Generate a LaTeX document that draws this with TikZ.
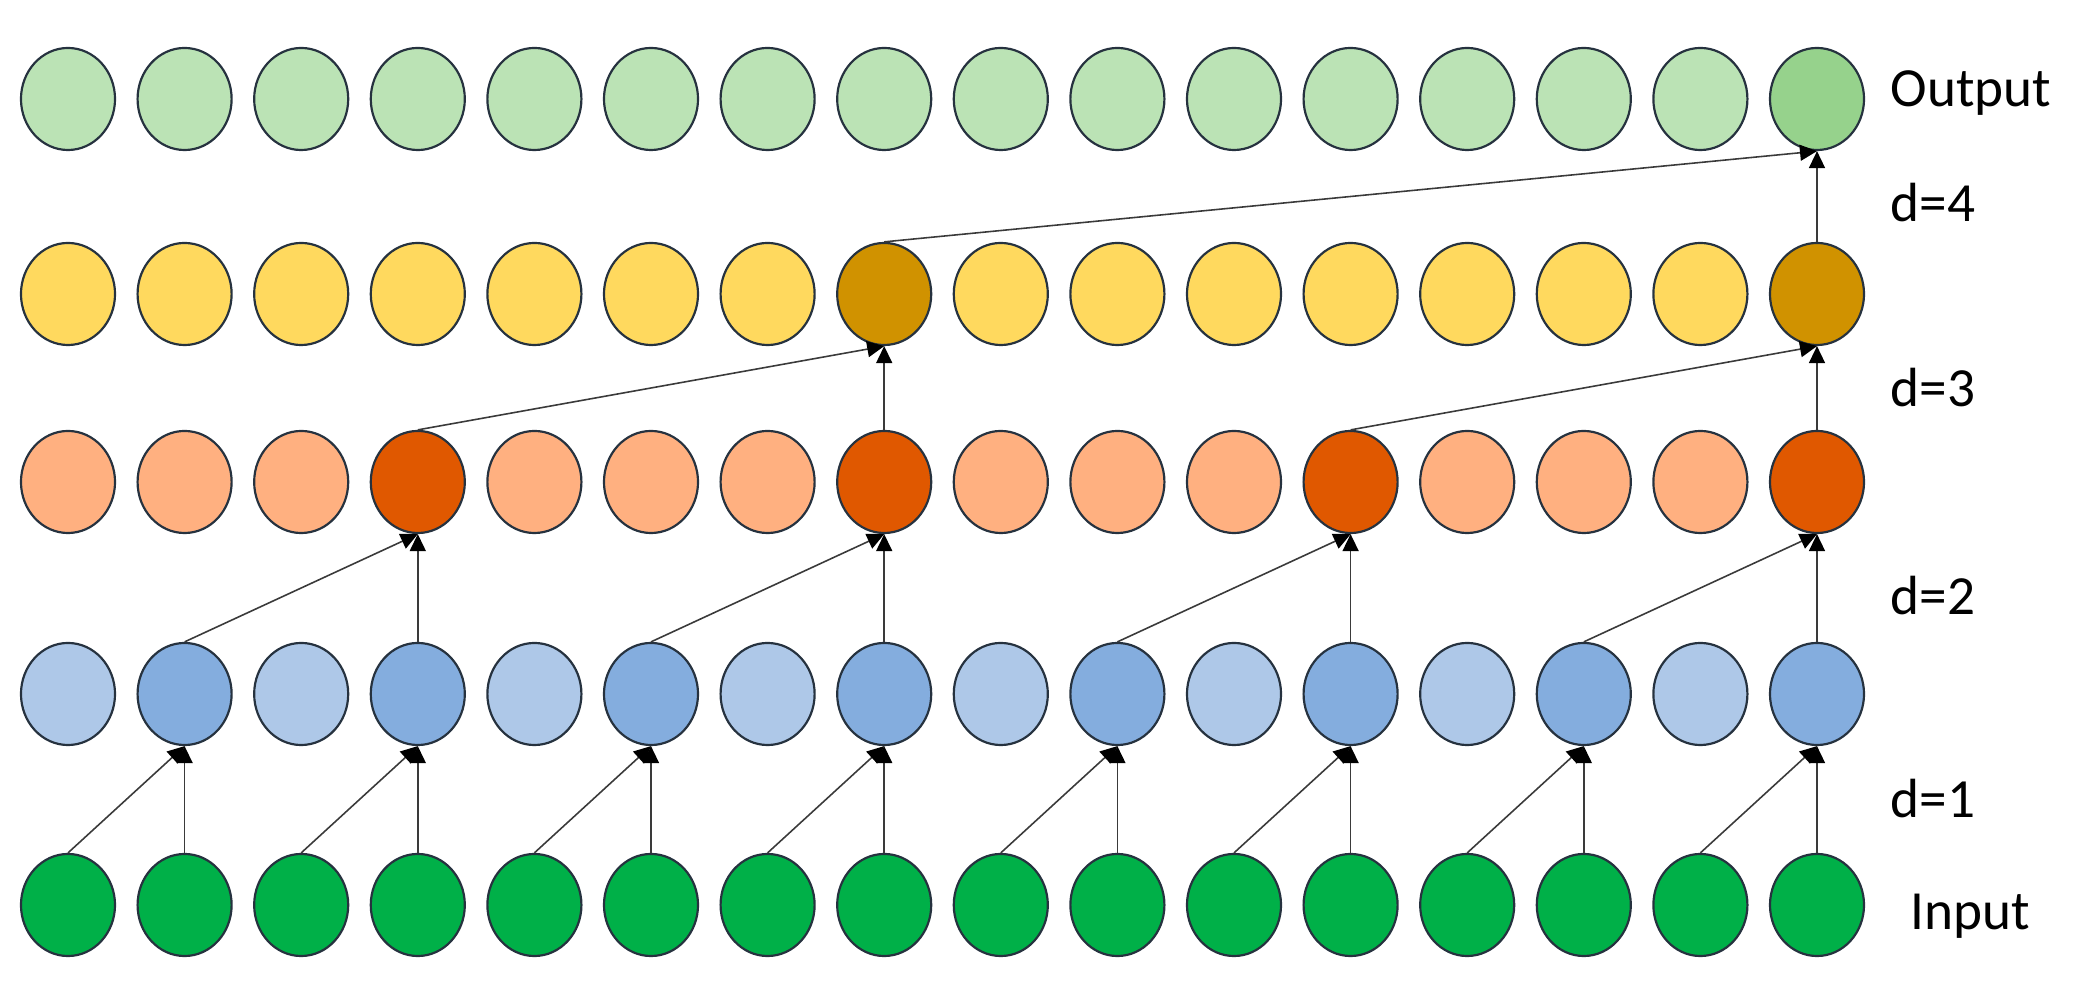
\documentclass[tikz,border=0pt]{standalone}
\usepackage{fontspec}
\setmainfont{Carlito}
\usetikzlibrary{shapes.geometric,arrows.meta}
\definecolor{outL}{HTML}{BBE3B5}
\definecolor{outD}{HTML}{96D28C}
\definecolor{yelL}{HTML}{FFD95E}
\definecolor{yelD}{HTML}{D09200}
\definecolor{oraL}{HTML}{FFB080}
\definecolor{oraD}{HTML}{E05800}
\definecolor{bluL}{HTML}{AEC8E8}
\definecolor{bluD}{HTML}{84ADDE}
\definecolor{grn}{HTML}{00B048}
\definecolor{edge}{HTML}{26323F}
\definecolor{arr}{HTML}{3A3A3A}
\begin{document}
\begin{tikzpicture}[x=0.01cm,y=-0.01cm,
  cell/.style={ellipse,draw=edge,line width=0.62pt,minimum width=0.94cm,minimum height=1.02cm,inner sep=0pt},
  conn/.style={draw=arr,line width=0.45pt,-{Triangle[length=0.17cm,width=0.16cm,color=black]}},
  lab/.style={anchor=base west,inner sep=0pt,font=\fontsize{15.7pt}{18pt}\selectfont}]
\useasboundingbox (0,0) rectangle (2084,986);
\foreach \i in {0,...,15}{
  \pgfmathsetmacro\xx{68+116.6*\i}
  \pgfmathtruncatemacro\mb{mod(\i,2)}
  \pgfmathtruncatemacro\mr{mod(\i,4)}
  \pgfmathtruncatemacro\my{mod(\i,8)}
  \ifnum\i=15 \def\co{outD}\else\def\co{outL}\fi
  \ifnum\my=7 \def\cy{yelD}\else\def\cy{yelL}\fi
  \ifnum\mr=3 \def\cr{oraD}\else\def\cr{oraL}\fi
  \ifnum\mb=1 \def\cb{bluD}\else\def\cb{bluL}\fi
  \node[cell,fill=\co] (ou\i) at (\xx,99) {};
  \node[cell,fill=\cy] (ye\i) at (\xx,294) {};
  \node[cell,fill=\cr] (or\i) at (\xx,482) {};
  \node[cell,fill=\cb] (bl\i) at (\xx,694) {};
  \node[cell,fill=grn] (gr\i) at (\xx,905) {};
}
\foreach \k in {0,...,7}{
  \pgfmathtruncatemacro\a{2*\k}
  \pgfmathtruncatemacro\b{2*\k+1}
  \draw[conn] (gr\a.north) -- (bl\b.south);
  \draw[conn] (gr\b.north) -- (bl\b.south);
}
\foreach \k in {0,...,3}{
  \pgfmathtruncatemacro\a{4*\k+1}
  \pgfmathtruncatemacro\b{4*\k+3}
  \draw[conn] (bl\a.north) -- (or\b.south);
  \draw[conn] (bl\b.north) -- (or\b.south);
}
\draw[conn] (or3.north) -- (ye7.south);
\draw[conn] (or7.north) -- (ye7.south);
\draw[conn] (or11.north) -- (ye15.south);
\draw[conn] (or15.north) -- (ye15.south);
\draw[conn] (ye7.north) -- (ou15.south);
\draw[conn] (ye15.north) -- (ou15.south);
\node[lab] (lout) at (1890,107) {Output};
\node[lab] (ld4) at (1890,221.7) {d=4};
\node[lab] (ld3) at (1890,406.7) {d=3};
\node[lab] (ld2) at (1890,615) {d=2};
\node[lab] (ld1) at (1890,818) {d=1};
\node[lab] (lin) at (1910,930) {Input};
\end{tikzpicture}
\end{document}
